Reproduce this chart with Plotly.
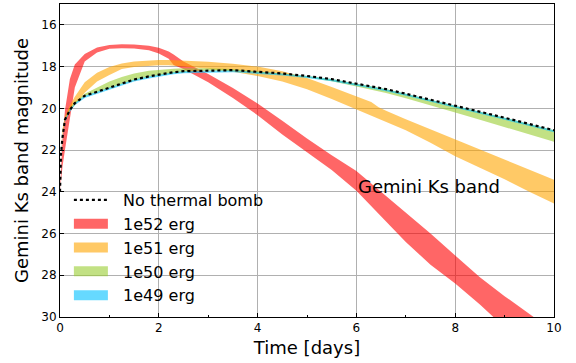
import plotly.graph_objects as go

# Time grid (days) shared by all light curves
time_days = [0, 0.02, 0.05, 0.1, 0.2, 0.3, 0.5, 0.75, 1.0, 1.25, 1.5, 1.8, 2.0, 2.2, 2.3, 2.5,
             3.0, 3.5, 4.0, 4.5, 5.0, 5.5, 6.0, 6.3, 6.45, 6.6, 7.0, 7.5, 8.0, 8.5, 9.0, 9.5, 10]

# Reference model without thermal bomb
no_bomb = [24.0, 22.2, 21.4, 20.55, 20.08, 19.75, 19.4, 19.2, 19.0, 18.8, 18.62, 18.47, 18.38, 18.3,
           18.27, 18.22, 18.18, 18.17, 18.25, 18.33, 18.45, 18.6, 18.82, 18.95, 19.01, 19.08, 19.3,
           19.58, 19.88, 20.17, 20.45, 20.75, 21.05]

# Bands: bright edge and faint edge of each energy model
e52_bright = [24.0, 22.8, 21.5, 20.1, 18.6, 17.9, 17.4, 17.08, 16.97, 16.93, 16.94, 17.0, 17.1, 17.28,
              17.42, 17.75, 18.35, 19.03, 19.77, 20.6, 21.45, 22.25, 23.0, 23.6, 23.9, 24.2, 25.0,
              26.0, 27.05, 28.1, 29.0, 29.85, 30.7]
e52_faint = [24.0, 23.4, 22.8, 22.0, 20.5, 19.0, 17.75, 17.32, 17.15, 17.12, 17.13, 17.22, 17.37,
             17.62, 17.92, 18.12, 18.75, 19.5, 20.33, 21.25, 22.1, 22.95, 23.95, 24.7, 25.05, 25.45,
             26.4, 27.5, 28.4, 29.4, 30.5, 31.5, 32.4]

e51_bright = [24.0, 22.0, 21.0, 20.4, 19.85, 19.45, 18.75, 18.3, 18.02, 17.85, 17.75, 17.7, 17.68,
              17.68, 17.69, 17.71, 17.77, 17.86, 18.0, 18.22, 18.55, 18.98, 19.42, 19.7, 19.95,
              20.12, 20.52, 21.0, 21.48, 21.95, 22.43, 22.92, 23.42]
e51_faint = [24.0, 22.2, 21.3, 20.6, 20.1, 19.85, 19.25, 18.72, 18.4, 18.12, 18.02, 17.95, 17.93,
             17.94, 17.96, 18.0, 18.1, 18.25, 18.45, 18.72, 19.08, 19.55, 20.05, 20.35, 20.5, 20.62,
             21.05, 21.65, 22.3, 22.85, 23.4, 24.0, 24.56]

e50_bright = [24.0, 22.2, 21.4, 20.5, 20.0, 19.7, 19.3, 19.0, 18.72, 18.5, 18.33, 18.2, 18.15, 18.1,
              18.1, 18.08, 18.08, 18.12, 18.22, 18.32, 18.45, 18.6, 18.8, 18.93, 19.0, 19.07, 19.3,
              19.58, 19.88, 20.17, 20.45, 20.75, 21.05]
e50_faint = [24.0, 22.2, 21.4, 20.55, 20.08, 19.78, 19.42, 19.22, 19.02, 18.83, 18.65, 18.5, 18.42,
             18.35, 18.32, 18.27, 18.2, 18.2, 18.28, 18.38, 18.52, 18.7, 18.95, 19.1, 19.18, 19.27,
             19.52, 19.85, 20.2, 20.55, 20.9, 21.25, 21.6]

e49_bright = no_bomb
e49_faint = [m + 0.1 for m in no_bomb]

bands = [
    ("1e52 erg", e52_bright, e52_faint, "rgba(255,0,0,0.6)"),
    ("1e51 erg", e51_bright, e51_faint, "rgba(255,165,0,0.6)"),
    ("1e50 erg", e50_bright, e50_faint, "rgba(154,205,50,0.6)"),
    ("1e49 erg", e49_bright, e49_faint, "rgba(0,191,255,0.6)"),
]

GAP = "\u00a0\u00a0"  # extra space between legend swatch and label

fig = go.Figure()

for name, bright, faint, color in bands:
    fig.add_trace(go.Scatter(x=time_days, y=faint, mode="lines", line=dict(width=0),
                             showlegend=False, hoverinfo="skip"))
    fig.add_trace(go.Scatter(x=time_days, y=bright, mode="lines", line=dict(width=0),
                             fill="tonexty", fillcolor=color, name=name, showlegend=False))

fig.add_trace(go.Scatter(x=time_days, y=no_bomb, mode="lines",
                         line=dict(color="black", width=2.2, dash="dot"),
                         name=GAP + "No thermal bomb", showlegend=True, legendrank=1))

# legend swatches for the bands
for i, (name, bright, faint, color) in enumerate(bands):
    fig.add_trace(go.Scatter(x=[None], y=[None], mode="lines",
                             line=dict(color=color, width=12),
                             name=GAP + name, showlegend=True, legendrank=2 + i))

fig.add_annotation(x=6.0, y=23.75, xref="x", yref="y", text="Gemini Ks band",
                   showarrow=False, xanchor="left", yanchor="middle",
                   font=dict(size=18, color="black"))

axis_common = dict(
    showline=True, linecolor="black", linewidth=1, mirror=True,
    showgrid=True, gridcolor="rgb(176,176,176)", gridwidth=1,
    ticks="inside", ticklen=4, tickcolor="black", tickwidth=1,
    zeroline=False, tickfont=dict(size=12, color="black"),
)

fig.update_xaxes(range=[0, 10], tickvals=[0, 2, 4, 6, 8, 10],
                 minor=dict(tickvals=[1, 3, 5, 7, 9], ticks="inside", ticklen=2.5,
                            tickcolor="black", showgrid=False),
                 title=dict(text="Time [days]", font=dict(size=18, color="black"), standoff=6),
                 **axis_common)
fig.update_yaxes(range=[30, 15], tickvals=[16, 18, 20, 22, 24, 26, 28, 30],
                 title=dict(text="Gemini Ks band magnitude", font=dict(size=18, color="black"),
                            standoff=8),
                 **axis_common)

fig.update_layout(
    width=576, height=363,
    margin=dict(l=60, r=22, t=4, b=46),
    paper_bgcolor="white", plot_bgcolor="white",
    font=dict(family="DejaVu Sans", color="black"),
    legend=dict(x=0.018, y=0.428, xanchor="left", yanchor="top",
                bgcolor="rgba(255,255,255,0)", borderwidth=0,
                font=dict(size=16, color="black"), itemwidth=34,
                traceorder="normal"),
    showlegend=True,
)

fig.write_html("out.html")
